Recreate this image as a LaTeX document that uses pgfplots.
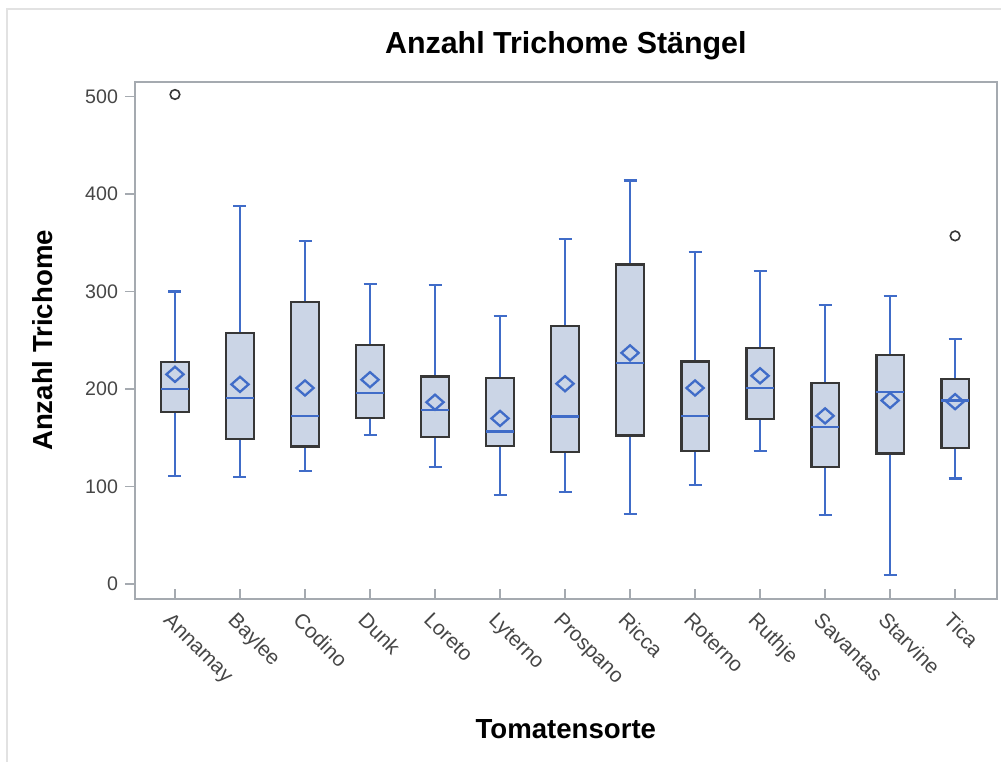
\documentclass[border=0pt]{standalone}
\usepackage{fontspec}
\setmainfont{Liberation Sans}
\usepackage{pgfplots}
\pgfplotsset{compat=1.18}
\usepgfplotslibrary{statistics}
\definecolor{sasblue}{RGB}{64,108,200}
\definecolor{boxfill}{RGB}{203,213,230}
\definecolor{boxedge}{RGB}{55,55,55}
\definecolor{framegray}{RGB}{165,170,176}
\definecolor{ticktext}{RGB}{70,70,70}
\definecolor{outer}{RGB}{226,226,226}
\pgfdeclareplotmark{wdiamond}{%
  \pgfsetlinewidth{1.15pt}%
  \pgfsetstrokecolor{sasblue}%
  \pgfpathmoveto{\pgfqpoint{0pt}{0.88\pgfplotmarksize}}%
  \pgfpathlineto{\pgfqpoint{\pgfplotmarksize}{0pt}}%
  \pgfpathlineto{\pgfqpoint{0pt}{-0.88\pgfplotmarksize}}%
  \pgfpathlineto{\pgfqpoint{-\pgfplotmarksize}{0pt}}%
  \pgfpathclose\pgfusepathqstroke}
\begin{document}
\begin{tikzpicture}
\useasboundingbox (0pt,0pt) rectangle (500.5pt,381pt);
\draw[outer, line width=1.2pt] (3.5pt,0pt) -- (3.5pt,376.5pt) -- (500.5pt,376.5pt);
\begin{axis}[
  at={(67.5pt,81.5pt)}, anchor=south west,
  scale only axis, width=430.85pt, height=258.5pt,
  xmin=-0.615, xmax=12.64, ymin=-15.4, ymax=514.8,
  axis line style={framegray, line width=0.8pt},
  every tick/.style={framegray, line width=0.8pt},
  major tick length=5pt,
  xtick={0,...,12},
  xticklabels={Annamay,Baylee,Codino,Dunk,Loreto,Lyterno,Prospano,Ricca,Roterno,Ruthje,Savantas,Starvine,Tica},
  xtick pos=bottom, xtick align=inside,
  ytick={0,100,...,500},
  ytick pos=left, ytick align=outside,
  /pgf/number format/assume math mode=true,
  tick label style={font=\fontsize{9.8}{11}\selectfont, text=ticktext},
  xticklabel style={font=\fontsize{10.4}{12}\selectfont, rotate=-45, anchor=north west, yshift=-1.5pt},
  title={Anzahl Trichome Stängel},
  title style={font=\fontsize{15.2}{18}\selectfont\bfseries, at={(axis description cs:0.5,1.0323)}, anchor=base},
  xlabel={Tomatensorte},
  xlabel style={font=\fontsize{13.8}{16}\selectfont\bfseries, at={(axis description cs:0.5,-0.2694)}, anchor=base},
  ylabel={Anzahl Trichome},
  ylabel style={font=\fontsize{13.8}{16}\selectfont\bfseries, at={(axis description cs:-0.0952,0.5)}, anchor=base},
  boxplot/draw direction=y,
  boxplot/box extend=0.42,
  boxplot/whisker extend=0.2,
  boxplot/every box/.style={draw=boxedge, fill=boxfill, line width=1.1pt},
  boxplot/every whisker/.style={draw=sasblue, line width=1.05pt},
  boxplot/every median/.style={draw=sasblue, line width=1.1pt},
  boxplot/every average/.style={/tikz/mark=wdiamond, /tikz/mark size=4.3pt, draw=sasblue, line width=1.15pt, solid,
     /tikz/mark options={draw=sasblue, line width=1.15pt, solid}},
  every axis plot/.append style={color=sasblue, mark=o, mark size=2.4pt, mark options={draw=boxedge, line width=0.8pt, solid}},
]
\addplot[boxplot prepared={draw position=0, lower whisker=111, lower quartile=176, median=199.6, upper quartile=227.4, upper whisker=300, average=215}] table[row sep=\\, y index=0] {502\\};
\addplot[boxplot prepared={draw position=1, lower whisker=109.3, lower quartile=148.6, median=190.8, upper quartile=257, upper whisker=388, average=204.7}] coordinates {};
\addplot[boxplot prepared={draw position=2, lower whisker=116, lower quartile=141, median=172.4, upper quartile=289, upper whisker=352, average=201}] coordinates {};
\addplot[boxplot prepared={draw position=3, lower whisker=153, lower quartile=170.6, median=196, upper quartile=245, upper whisker=308, average=209.5}] coordinates {};
\addplot[boxplot prepared={draw position=4, lower whisker=120.3, lower quartile=150.4, median=178.3, upper quartile=212.8, upper whisker=306.7, average=186.4}] coordinates {};
\addplot[boxplot prepared={draw position=5, lower whisker=91, lower quartile=141.2, median=156.3, upper quartile=211.3, upper whisker=275, average=169.8}] coordinates {};
\addplot[boxplot prepared={draw position=6, lower whisker=94.6, lower quartile=135, median=171.7, upper quartile=264.9, upper whisker=353.6, average=205.4}] coordinates {};
\addplot[boxplot prepared={draw position=7, lower whisker=71.9, lower quartile=152.2, median=226.3, upper quartile=327.6, upper whisker=413.8, average=237}] coordinates {};
\addplot[boxplot prepared={draw position=8, lower whisker=101.2, lower quartile=136.5, median=172.4, upper quartile=228.2, upper whisker=340.4, average=201}] coordinates {};
\addplot[boxplot prepared={draw position=9, lower whisker=136.1, lower quartile=169.5, median=200.7, upper quartile=242.1, upper whisker=321.3, average=213.5}] coordinates {};
\addplot[boxplot prepared={draw position=10, lower whisker=70.8, lower quartile=119.6, median=161.4, upper quartile=206.5, upper whisker=286.5, average=172.4}] coordinates {};
\addplot[boxplot prepared={draw position=11, lower whisker=8.8, lower quartile=133.9, median=197, upper quartile=234.8, upper whisker=295.7, average=188.2}] coordinates {};
\addplot[boxplot prepared={draw position=12, lower whisker=108.2, lower quartile=139.8, median=188.2, upper quartile=210.2, upper whisker=251.3, average=187}] table[row sep=\\, y index=0] {357\\};
\end{axis}
\end{tikzpicture}
\end{document}
